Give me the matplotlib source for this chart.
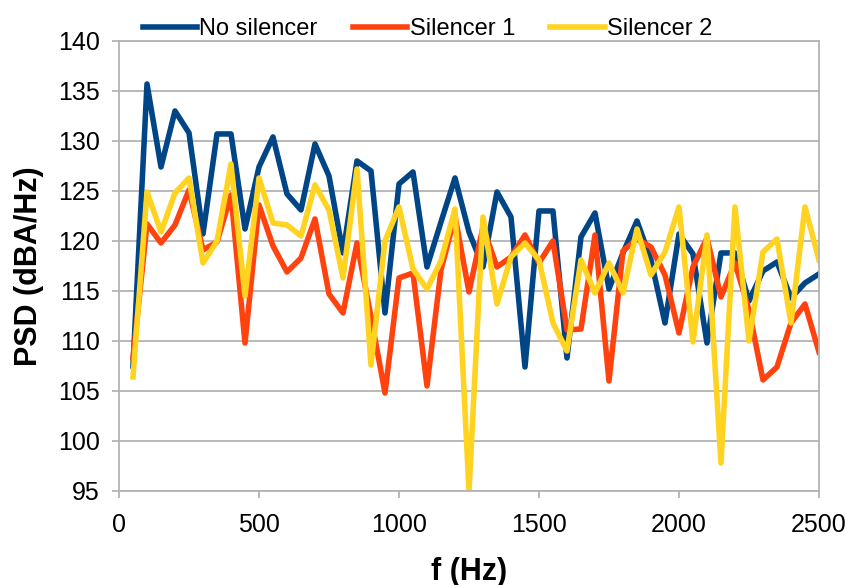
import numpy as np
import matplotlib
matplotlib.use("Agg")
import matplotlib.pyplot as plt

plt.rcParams['font.family'] = ['Liberation Sans', 'DejaVu Sans']

freq = np.arange(50, 2501, 50)

no_silencer = [107.5, 135.7, 127.4, 133.0, 130.8, 120.7, 130.7, 130.7, 121.2, 127.4,
               130.4, 124.7, 123.1, 129.7, 126.5, 118.8, 128.0, 127.0, 112.8, 125.7,
               126.9, 117.4, 121.9, 126.3, 120.9, 117.4, 124.9, 122.4, 107.4, 123.0,
               123.0, 108.3, 120.4, 122.8, 115.2, 118.8, 122.0, 118.1, 111.8, 120.7,
               118.7, 109.8, 118.8, 118.8, 114.0, 117.0, 117.9, 114.3, 115.8, 116.7]

silencer_1 = [108.3, 121.7, 119.8, 121.6, 125.1, 119.1, 119.9, 124.6, 109.8, 123.6,
              119.5, 116.9, 118.3, 122.2, 114.7, 112.8, 119.8, 112.4, 104.8, 116.3,
              116.8, 105.5, 117.1, 122.5, 114.9, 121.4, 117.4, 118.4, 120.6, 117.8,
              120.0, 111.1, 111.2, 120.6, 106.0, 119.0, 120.2, 119.4, 116.6, 110.8,
              117.4, 120.3, 114.4, 117.8, 113.1, 106.1, 107.4, 111.8, 113.7, 108.9]

silencer_2 = [106.4, 124.9, 120.9, 124.8, 126.3, 117.8, 120.0, 127.7, 114.5, 126.3,
              121.8, 121.6, 120.5, 125.6, 123.1, 116.3, 127.2, 107.6, 120.0, 123.4,
              117.2, 115.2, 118.0, 123.2, 95.0, 122.4, 113.7, 118.4, 119.8, 118.1,
              111.8, 109.0, 118.1, 114.8, 117.8, 114.8, 121.2, 116.6, 118.9, 123.4,
              109.9, 120.6, 97.8, 123.4, 110.0, 118.9, 120.2, 111.8, 123.4, 118.1]

fig = plt.figure(figsize=(8.5, 5.85), dpi=100)
ax = fig.add_axes([0.14, 0.1607, 0.8235, 0.7693])

lw = 4.0
ax.plot(freq, no_silencer, color='#004586', lw=lw, label='No silencer', solid_joinstyle='round')
ax.plot(freq, silencer_1, color='#ff420e', lw=lw, label='Silencer 1', solid_joinstyle='round')
ax.plot(freq, silencer_2, color='#ffd320', lw=lw, label='Silencer 2', solid_joinstyle='round')

ax.set_xlim(0, 2500)
ax.set_ylim(95, 140)
ax.set_xticks(range(0, 2501, 500))
ax.set_yticks(range(95, 141, 5))
ax.yaxis.grid(True, color='#b3b3b3', lw=1.3)
ax.set_axisbelow(True)
for s in ax.spines.values():
    s.set_color('#b3b3b3')
    s.set_linewidth(1.3)
ax.tick_params(colors='#b3b3b3', labelcolor='black', labelsize=18, length=5, width=1.3)
ax.tick_params(axis='x', pad=11)
ax.tick_params(axis='y', pad=9)

ax.set_xlabel('f (Hz)', fontsize=22, fontweight='bold', labelpad=14)
ax.set_ylabel('PSD (dBA/Hz)', fontsize=22, fontweight='bold', labelpad=10)

fig.legend(loc='upper center', bbox_to_anchor=(0.503, 1.005), ncol=3, frameon=False,
           fontsize=17, handlelength=2.3, handletextpad=0.1, columnspacing=1.5)

fig.savefig('out.png', dpi=100)
